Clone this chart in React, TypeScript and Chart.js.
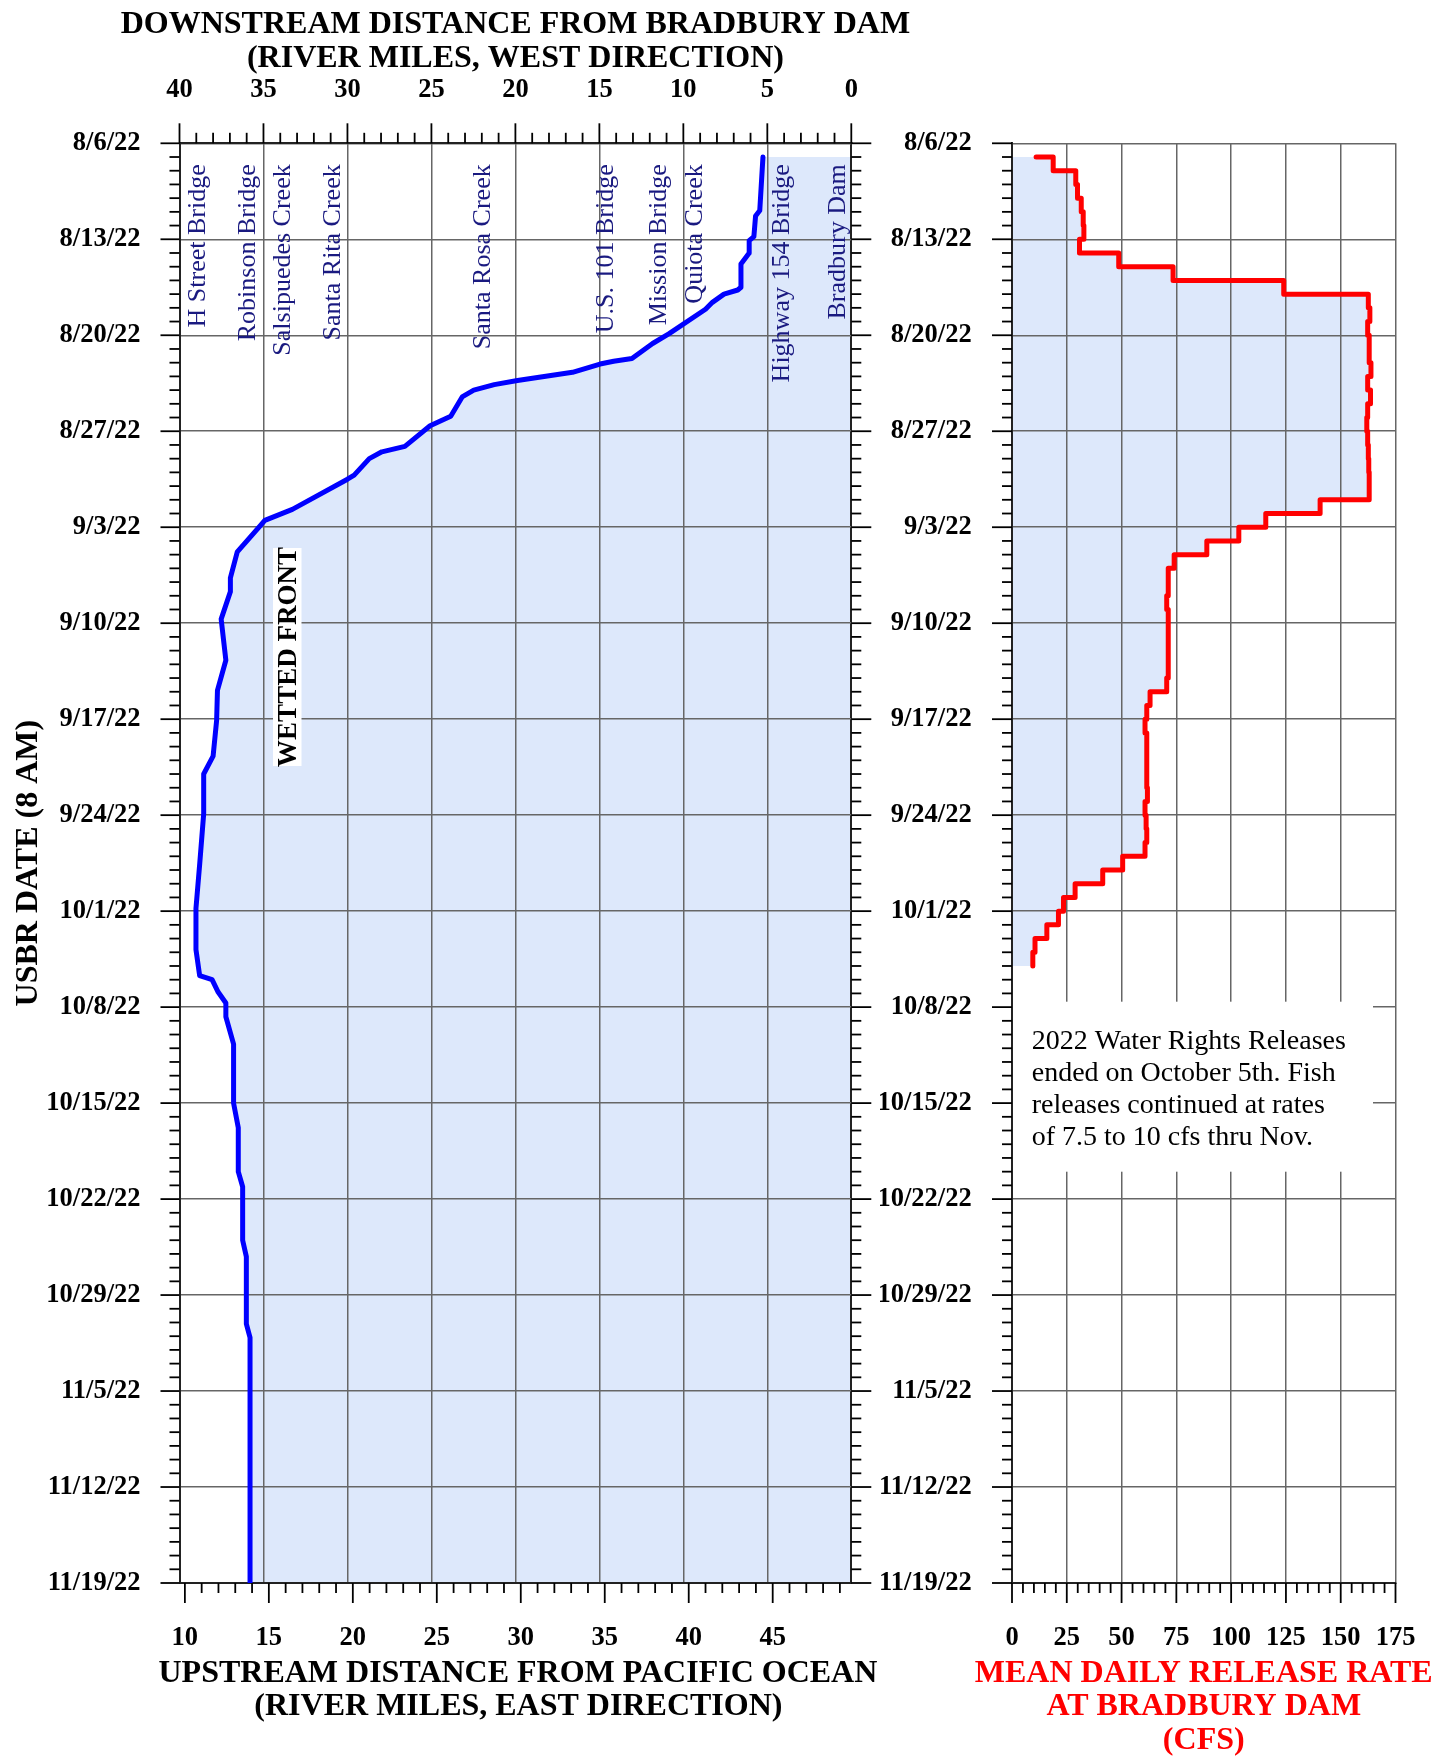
import React, { useEffect, useRef } from 'react';
import { Chart, registerables } from 'chart.js';

Chart.register(...registerables);

const SERIF = '"Liberation Serif", "Times New Roman", Times, serif';

// ---- axis structure ----
const weekLabels = ['8/6/22', '8/13/22', '8/20/22', '8/27/22', '9/3/22', '9/10/22', '9/17/22', '9/24/22', '10/1/22', '10/8/22', '10/15/22', '10/22/22', '10/29/22', '11/5/22', '11/12/22', '11/19/22'];
const weekDays = [0, 7, 14, 21, 28, 35, 42, 49, 56, 63, 70, 77, 84, 91, 98, 105];
const totalDays = 105; // days after 8/6/22 8 AM
const topMileTicks = [40, 35, 30, 25, 20, 15, 10, 5, 0];
const bottomMileTicks = [10, 15, 20, 25, 30, 35, 40, 45];
const cfsTicks = [0, 25, 50, 75, 100, 125, 150, 175];
const damMileFromOcean = 49.68;

// ---- site labels (river miles downstream of Bradbury Dam) ----
const siteNames = ['H Street Bridge', 'Robinson Bridge', 'Salsipuedes Creek', 'Santa Rita Creek', 'Santa Rosa Creek', 'U.S. 101 Bridge', 'Mission Bridge', 'Quiota Creek', 'Highway 154 Bridge', 'Bradbury Dam'];
const siteMiles = [38.51, 35.5, 33.45, 30.44, 21.52, 14.19, 11.03, 8.89, 3.68, 0.4];

// ---- wetted front: days after 8/6/22 and miles downstream of the dam ----
const frontDays = [1, 4.9, 5.3, 6.8, 7.1, 8.0, 8.8, 10.5, 10.7, 11.0, 11.6, 12.1, 13.9, 14.6, 15.7, 15.9, 16.1, 16.7, 17.3, 17.6, 18.0, 18.5, 19.9, 20.6, 22.1, 22.5, 23.0, 24.2, 24.5, 26.7, 27.5, 27.9, 29.8, 31.7, 32.7, 34.7, 37.7, 39.9, 42.1, 44.7, 46.0, 48.9, 52.6, 55.8, 58.8, 60.7, 61.0, 61.9, 62.7, 63.7, 65.7, 70.0, 71.8, 75.0, 76.1, 80.0, 81.2, 86.1, 87.1, 105];
const frontMiles = [5.26, 5.45, 5.7, 5.8, 6.08, 6.08, 6.57, 6.57, 6.76, 7.58, 8.27, 8.68, 10.87, 11.83, 13.06, 14.15, 14.96, 16.6, 19.88, 21.26, 22.48, 23.17, 23.85, 25.08, 26.58, 27.95, 28.7, 29.6, 30.0, 33.28, 34.92, 35.2, 36.56, 36.97, 36.97, 37.52, 37.24, 37.74, 37.79, 38.0, 38.56, 38.56, 38.8, 39.02, 39.02, 38.8, 38.06, 37.7, 37.24, 37.24, 36.78, 36.78, 36.5, 36.5, 36.24, 36.24, 36.02, 36.02, 35.8, 35.8];

// ---- mean daily release (cfs), days 1..60 after 8/6/22 ----
const releaseFirstDay = 1;
const releaseCfs = [11, 18.8, 29.1, 29.9, 31.6, 32.5, 32.8, 30.8, 48.7, 73.5, 124, 162.6, 163.3, 162.3, 163, 163, 163.8, 162.3, 163.6, 162.3, 161.9, 162.3, 162.6, 162.8, 163, 163, 140.6, 115.8, 103.5, 88.9, 74, 71.3, 71.3, 70.6, 71.3, 71.3, 71.3, 71.3, 71.3, 70.6, 63, 61.5, 60.7, 61.5, 61.5, 61.5, 61.5, 61.8, 60.7, 61.2, 61.5, 60.7, 50.5, 41.4, 28.8, 23.5, 21.2, 15.9, 10.5, 9.5];

const noteLines = ['2022 Water Rights Releases', 'ended on October 5th. Fish', 'releases continued at rates', 'of 7.5 to 10 cfs thru Nov.'];

const FILL = '#dde8fb';
const GRID = '#666666';
const DARK = '#222222';
const CLEAR = 'rgba(0,0,0,0)';
const tickFont = { family: SERIF, size: 26.5, weight: 'bold' as const };

function seg(ctx: CanvasRenderingContext2D, x1: number, y1: number, x2: number, y2: number) {
  ctx.beginPath();
  ctx.moveTo(x1, y1);
  ctx.lineTo(x2, y2);
  ctx.stroke();
}

const leftDecor = {
  id: 'leftDecor',
  afterDraw(chart: any) {
    const { ctx, chartArea: a } = chart;
    const y = chart.scales.y, xt = chart.scales.xTop, xb = chart.scales.xBottom;
    ctx.save();
    ctx.strokeStyle = '#000';
    ctx.lineWidth = 1.8;
    for (let d = 0; d <= totalDays; d++) {
      const py = y.getPixelForValue(d);
      const major = d % 7 === 0;
      seg(ctx, a.left - (major ? 19 : 10), py, a.left, py);
      seg(ctx, a.right, py, a.right + (major ? 20 : 10), py);
    }
    for (let m = 0; m <= 40; m++) {
      const px = xt.getPixelForValue(m);
      seg(ctx, px, a.top - (m % 5 === 0 ? 20 : 10.5), px, a.top);
    }
    for (let m = 10; m <= 49; m++) {
      const px = xb.getPixelForValue(m);
      seg(ctx, px, a.bottom, px, a.bottom + (m % 5 === 0 ? 20 : 10));
    }

    const cx = (a.left + a.right) / 2;
    ctx.fillStyle = '#000';
    ctx.font = `bold 32px ${SERIF}`;
    ctx.textAlign = 'center';
    ctx.textBaseline = 'alphabetic';
    ctx.fillText('DOWNSTREAM DISTANCE FROM BRADBURY DAM', cx, 33.3);
    ctx.fillText('(RIVER MILES, WEST DIRECTION)', cx, 66.7);
    ctx.fillText('UPSTREAM DISTANCE FROM PACIFIC OCEAN', cx + 2.5, 1681.7);
    ctx.fillText('(RIVER MILES, EAST DIRECTION)', cx + 3, 1715);

    ctx.save();
    ctx.translate(37, (a.top + a.bottom) / 2);
    ctx.rotate(-Math.PI / 2);
    ctx.fillText('USBR DATE (8 AM)', 0, 0);
    ctx.restore();

    ctx.font = `26px ${SERIF}`;
    ctx.fillStyle = '#1a1a80';
    ctx.textAlign = 'right';
    siteNames.forEach((name, i) => {
      ctx.save();
      ctx.translate(xt.getPixelForValue(siteMiles[i]), a.top + 21);
      ctx.rotate(-Math.PI / 2);
      ctx.fillText(name, 0, 0);
      ctx.restore();
    });

    ctx.fillStyle = '#fff';
    ctx.fillRect(273, 548, 28.5, 218);
    ctx.save();
    ctx.translate(289, 657);
    ctx.rotate(-Math.PI / 2);
    ctx.fillStyle = '#000';
    ctx.font = `bold 27px ${SERIF}`;
    ctx.textAlign = 'center';
    ctx.textBaseline = 'middle';
    ctx.fillText('WETTED FRONT', 0, 0);
    ctx.restore();
    ctx.restore();
  },
};

const rightDecor = {
  id: 'rightDecor',
  afterDraw(chart: any) {
    const { ctx, chartArea: a } = chart;
    const y = chart.scales.y, x = chart.scales.x;
    ctx.save();
    ctx.fillStyle = '#fff';
    ctx.fillRect(a.left + 1, 1001.7, 360, 170);
    ctx.fillStyle = '#000';
    ctx.font = `28px ${SERIF}`;
    ctx.textAlign = 'left';
    ctx.textBaseline = 'alphabetic';
    noteLines.forEach((t, i) => ctx.fillText(t, a.left + 19.7, 1048.5 + i * 32.2));

    ctx.strokeStyle = '#000';
    ctx.lineWidth = 1.8;
    for (let d = 0; d <= totalDays; d++) {
      const py = y.getPixelForValue(d);
      seg(ctx, a.left - (d % 7 === 0 ? 20 : 10), py, a.left, py);
    }
    for (let v = 0; v <= 175; v += 5) {
      const px = x.getPixelForValue(v);
      seg(ctx, px, a.bottom, px, a.bottom + (v % 25 === 0 ? 20 : 10));
    }

    const cx = (a.left + a.right) / 2;
    ctx.fillStyle = '#ff0000';
    ctx.font = `bold 32px ${SERIF}`;
    ctx.textAlign = 'center';
    ctx.fillText('MEAN DAILY RELEASE RATE', cx, 1681.7);
    ctx.fillText('AT BRADBURY DAM', cx, 1715);
    ctx.fillText('(CFS)', cx, 1748.5);
    ctx.restore();
  },
};

const dayAxis = (width: number, padding: number) => ({
  type: 'linear' as const,
  position: 'left' as const,
  min: 0,
  max: totalDays,
  reverse: true,
  afterBuildTicks: (s: any) => { s.ticks = weekDays.map((v) => ({ value: v })); },
  afterFit: (s: any) => { s.width = width; },
  grid: { color: GRID, lineWidth: 1.5, drawTicks: false },
  border: { display: true, color: DARK, width: 2 },
  ticks: { font: tickFont, color: '#000', padding, autoSkip: false, maxRotation: 0, callback: (_v: any, i: number) => weekLabels[i] },
});

// label offset for horizontal axes is carried by an invisible tick length
const hTicks = { font: tickFont, color: '#000', padding: 0, autoSkip: false, maxRotation: 0 };

export default function App() {
  const leftRef = useRef<HTMLCanvasElement>(null);
  const rightRef = useRef<HTMLCanvasElement>(null);

  useEffect(() => {
    const left = new Chart(leftRef.current as HTMLCanvasElement, {
      type: 'line',
      data: {
        datasets: [{
          data: frontDays.map((d, i) => ({ x: frontMiles[i], y: d })),
          xAxisID: 'xTop',
          yAxisID: 'y',
          borderColor: '#0000ff',
          borderWidth: 5,
          borderJoinStyle: 'round',
          borderCapStyle: 'round',
          pointRadius: 0,
          tension: 0,
          fill: { value: 0 },
          backgroundColor: FILL,
        }],
      },
      options: {
        indexAxis: 'y',
        responsive: false,
        animation: false,
        devicePixelRatio: 1,
        events: [],
        layout: { padding: { left: 0, right: 1448 - 851.3, top: 0, bottom: 0 } },
        plugins: { legend: { display: false }, tooltip: { enabled: false }, filler: { drawTime: 'beforeDraw' } } as any,
        scales: {
          xTop: {
            type: 'linear', position: 'top', min: 0, max: 40, reverse: true,
            afterBuildTicks: (s: any) => { s.ticks = topMileTicks.map((v) => ({ value: v })); },
            afterFit: (s: any) => { s.height = 143.3; },
            grid: { color: (c: any) => (c.tick && (c.tick.value === 0 || c.tick.value === 40) ? DARK : GRID), lineWidth: (c: any) => (c.tick && c.tick.value === 0 ? 2 : 1.5), drawTicks: true, tickLength: 37, tickColor: CLEAR },
            border: { display: true, color: DARK, width: 2 },
            ticks: hTicks,
          },
          xBottom: {
            type: 'linear', position: 'bottom', min: damMileFromOcean - 40, max: damMileFromOcean,
            afterBuildTicks: (s: any) => { s.ticks = bottomMileTicks.map((v) => ({ value: v })); },
            afterFit: (s: any) => { s.height = 173; },
            grid: { display: true, drawOnChartArea: false, drawTicks: true, tickLength: 39.7, tickColor: CLEAR, color: CLEAR },
            border: { display: true, color: DARK, width: 2 },
            ticks: hTicks,
          },
          y: dayAxis(179.5, 39),
        } as any,
      },
      plugins: [leftDecor],
    } as any);

    const right = new Chart(rightRef.current as HTMLCanvasElement, {
      type: 'line',
      data: {
        datasets: [{
          data: releaseCfs.map((v, i) => ({ x: v, y: releaseFirstDay + i })),
          xAxisID: 'x',
          yAxisID: 'y',
          borderColor: '#ff0000',
          borderWidth: 5,
          borderJoinStyle: 'round',
          borderCapStyle: 'round',
          pointRadius: 0,
          stepped: true,
          fill: { value: 0 },
          backgroundColor: FILL,
        }],
      },
      options: {
        indexAxis: 'y',
        responsive: false,
        animation: false,
        devicePixelRatio: 1,
        events: [],
        layout: { padding: { left: 1012 - 132, right: 1448 - 1395.5, top: 143.3, bottom: 0 } },
        plugins: { legend: { display: false }, tooltip: { enabled: false }, filler: { drawTime: 'beforeDraw' } } as any,
        scales: {
          x: {
            type: 'linear', position: 'bottom', min: 0, max: 175,
            afterBuildTicks: (s: any) => { s.ticks = cfsTicks.map((v) => ({ value: v })); },
            afterFit: (s: any) => { s.height = 173; },
            grid: { color: GRID, lineWidth: 1.5, drawTicks: true, tickLength: 39.7, tickColor: CLEAR },
            border: { display: true, color: DARK, width: 2 },
            ticks: hTicks,
          },
          y: dayAxis(132, 40.3),
        } as any,
      },
      plugins: [rightDecor],
    } as any);

    return () => {
      left.destroy();
      right.destroy();
    };
  }, []);

  return (
    <div style={{ position: 'absolute', left: 0, top: 0, width: 1448, height: 1756, background: '#fff', overflow: 'hidden' }}>
      <canvas ref={leftRef} width={1448} height={1756} style={{ position: 'absolute', left: 0, top: 0 }} />
      <canvas ref={rightRef} width={1448} height={1756} style={{ position: 'absolute', left: 0, top: 0 }} />
    </div>
  );
}
